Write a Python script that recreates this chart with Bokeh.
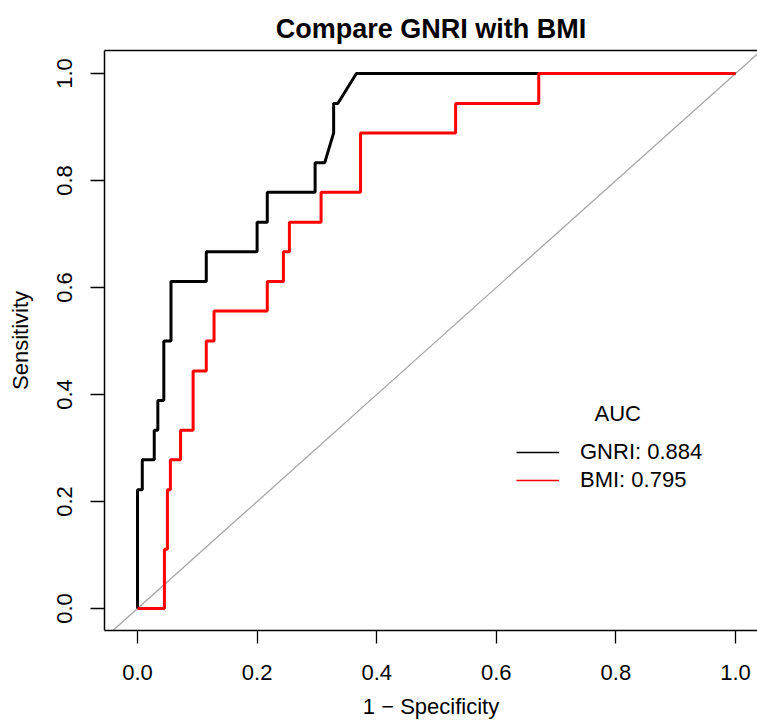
from bokeh.plotting import figure
from bokeh.models import Range1d, FixedTicker, LinearAxis, Slope, Legend, LegendItem, Label
from bokeh.embed import file_html
from bokeh.resources import INLINE

# ROC curve vertices (1 - specificity, sensitivity)
gnri_fpr = [0.0, 0.0, 0.008, 0.008, 0.028, 0.028, 0.034, 0.034, 0.044, 0.044, 0.056, 0.056,
            0.115, 0.115, 0.200, 0.200, 0.217, 0.217, 0.297, 0.297, 0.313, 0.328, 0.328,
            0.335, 0.366, 1.0]
gnri_tpr = [0.0, 0.222, 0.222, 0.278, 0.278, 0.333, 0.333, 0.389, 0.389, 0.5, 0.5, 0.611,
            0.611, 0.667, 0.667, 0.722, 0.722, 0.778, 0.778, 0.833, 0.833, 0.889, 0.944,
            0.944, 1.0, 1.0]

bmi_fpr = [0.0, 0.045, 0.045, 0.050, 0.050, 0.055, 0.055, 0.072, 0.072, 0.093, 0.093, 0.115,
           0.115, 0.128, 0.128, 0.217, 0.217, 0.244, 0.244, 0.254, 0.254, 0.307, 0.307, 0.373,
           0.373, 0.532, 0.532, 0.671, 0.671, 1.0]
bmi_tpr = [0.0, 0.0, 0.111, 0.111, 0.222, 0.222, 0.278, 0.278, 0.333, 0.333, 0.444, 0.444,
           0.5, 0.5, 0.556, 0.556, 0.611, 0.611, 0.667, 0.667, 0.722, 0.722, 0.778, 0.778,
           0.889, 0.889, 0.944, 0.944, 1.0, 1.0]

series_names = ["GNRI", "BMI"]
auc_values = [0.884, 0.795]

tick_values = [0.0, 0.2, 0.4, 0.6, 0.8, 1.0]
tick_labels = ["0.0", "0.2", "0.4", "0.6", "0.8", "1.0"]

FONT = "Liberation Sans"
NAN = float("nan")

p = figure(width=757, height=725, output_backend="svg", toolbar_location=None,
           x_range=Range1d(-0.0552, 1.0368), y_range=Range1d(-0.0411, 1.043),
           min_border_left=104, min_border_right=0, min_border_top=50, min_border_bottom=95,
           x_axis_label="1 \u2212 Specificity", y_axis_label="Sensitivity")

p.title.text = "Compare GNRI with BMI"
p.title.align = "center"
p.title.text_font = FONT
p.title.text_font_size = "27px"
p.title.text_font_style = "bold"
p.title.text_color = "black"
p.title.standoff = 13

p.outline_line_color = None
p.grid.visible = False
p.background_fill_color = "white"
p.border_fill_color = "white"

overrides = {v: t for v, t in zip(tick_values, tick_labels)}
for ax in (p.xaxis[0], p.yaxis[0]):
    ax.ticker = FixedTicker(ticks=tick_values)
    ax.major_label_overrides = overrides
    ax.minor_tick_line_color = None
    ax.major_tick_in = 0
    ax.axis_line_color = "black"
    ax.axis_line_width = 1.5
    ax.major_tick_line_color = "black"
    ax.major_tick_line_width = 1.3
    ax.major_label_text_font = FONT
    ax.major_label_text_font_size = "22px"
    ax.major_label_text_color = "black"
    ax.axis_label_text_font = FONT
    ax.axis_label_text_font_size = "22px"
    ax.axis_label_text_font_style = "normal"
    ax.axis_label_text_color = "black"

p.xaxis[0].major_tick_out = 13
p.xaxis[0].major_label_standoff = 21
p.xaxis[0].axis_label_standoff = 11

p.yaxis[0].major_tick_out = 14
p.yaxis[0].major_label_standoff = 18
p.yaxis[0].major_label_orientation = "vertical"
p.yaxis[0].axis_label_standoff = 22

# top border of the box
top = LinearAxis(ticker=FixedTicker(ticks=[]), axis_line_color="black", axis_line_width=1.5,
                 major_tick_out=0, major_tick_in=0, minor_tick_out=0, minor_tick_in=0,
                 major_label_standoff=0, major_label_text_font_size="0px")
p.add_layout(top, "above")

# chance diagonal
p.add_layout(Slope(gradient=1, y_intercept=0, line_color="#a6a6a6", line_width=1.3,
                   level="underlay"))

p.line(gnri_fpr, gnri_tpr, line_color="black", line_width=3)
p.line(bmi_fpr, bmi_tpr, line_color="#ff0000", line_width=3)

# legend (thin keys)
colors = ["black", "#ff0000"]
items = []
for name, auc, c in zip(series_names, auc_values, colors):
    r = p.line([NAN], [NAN], line_color=c, line_width=1.5)
    items.append(LegendItem(label=f"{name}: {auc:.3f}", renderers=[r]))

legend = Legend(items=items, location=(412, 136), glyph_width=43, glyph_height=28,
                label_height=28, label_standoff=21, spacing=0, padding=0, margin=0,
                border_line_color=None, background_fill_alpha=0,
                label_text_font=FONT, label_text_font_size="22px", label_text_color="black")
p.add_layout(legend)

p.add_layout(Label(x=0.803, y=0.364, text="AUC", text_align="center", text_baseline="middle",
                   text_font=FONT, text_font_size="22px", text_color="black"))

open("out.html", "w").write(file_html(p, INLINE))
